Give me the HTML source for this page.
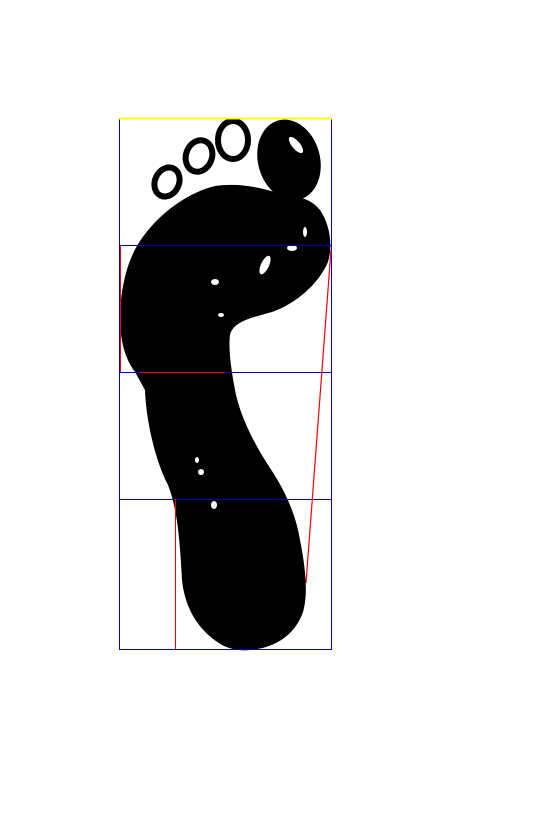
<!DOCTYPE html>
<html><head><meta charset="utf-8"><style>html,body{margin:0;padding:0;background:#fff;}svg{display:block;}</style></head>
<body>
<svg width="538" height="818" viewBox="0 0 538 818">
<g>
<path fill="#000" d="M250,650 C275,648 295,635 303,612 C308,595 306,570 300,540 C296,515 285,490 270,468 C255,445 242,420 236,395 C232,375 228,350 230,335 C233,322 250,318 272,312 C295,304 318,285 328,262 C333,245 330,225 320,210 C312,200 300,196 292,198 C270,190 245,182 215,186 C190,192 165,210 150,228 C135,245 125,265 121,300 C118,330 122,355 135,372 L145,390 C146,420 155,460 168,485 C178,510 180,545 182,580 C185,610 200,632 222,645 C232,650 242,651 250,650 Z"/>
<ellipse cx="289" cy="160" rx="31" ry="41" transform="rotate(-15 289 160)" fill="#000"/>
<ellipse cx="233" cy="140" rx="15" ry="19" fill="none" stroke="#000" stroke-width="6"/>
<ellipse cx="199" cy="156" rx="13" ry="16" transform="rotate(20 199 156)" fill="none" stroke="#000" stroke-width="6"/>
<ellipse cx="167" cy="182" rx="12" ry="15" transform="rotate(25 167 182)" fill="none" stroke="#000" stroke-width="6"/>
<g fill="#fff">
<ellipse cx="296" cy="145" rx="4" ry="10" transform="rotate(-40 296 145)"/>
<ellipse cx="265" cy="265" rx="4" ry="10" transform="rotate(25 265 265)"/>
<ellipse cx="215" cy="282" rx="4" ry="3"/>
<ellipse cx="292" cy="248" rx="5" ry="3"/>
<ellipse cx="221" cy="315" rx="3" ry="2"/>
<ellipse cx="197" cy="460" rx="2" ry="3"/>
<ellipse cx="201" cy="472" rx="3" ry="3"/>
<ellipse cx="214" cy="505" rx="3" ry="4"/>
<ellipse cx="305" cy="232" rx="2" ry="5"/>
</g>
</g>
<g fill="none" stroke-width="1" shape-rendering="crispEdges">
<rect x="119.5" y="118.5" width="212" height="531" stroke="#0000cc"/>
<line x1="119" y1="118.5" x2="332" y2="118.5" stroke="#ffff00" stroke-width="2"/>
<line x1="119" y1="245.5" x2="332" y2="245.5" stroke="#0000cc"/>
<line x1="119" y1="372.5" x2="332" y2="372.5" stroke="#0000cc"/>
<line x1="119" y1="499.5" x2="332" y2="499.5" stroke="#0000cc"/>
<line x1="120.5" y1="245" x2="120.5" y2="372" stroke="#ff0000"/>
<line x1="140" y1="372.5" x2="225" y2="372.5" stroke="#ff0000"/>
<line x1="175.5" y1="499" x2="175.5" y2="649" stroke="#ff0000"/>
</g>
<line x1="331" y1="250" x2="306" y2="583" stroke="#ff0000" stroke-width="1.2"/>
</svg>
</body></html>
